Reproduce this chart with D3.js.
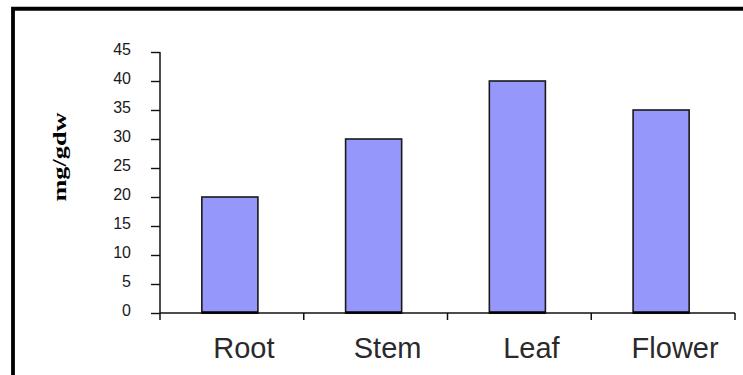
<!DOCTYPE html>
<html>
<head>
<meta charset="utf-8">
<script src="https://cdn.jsdelivr.net/npm/d3@7"></script>
<style>
  html, body { margin: 0; padding: 0; background: #fff; }
  svg { display: block; }
  .ylab { font-family: 'Liberation Sans', Arial, sans-serif; font-size: 16px; fill: #1a1a1a; }
  .xlab { font-family: 'Liberation Sans', Arial, sans-serif; font-size: 29px; fill: #2a2a2a; }
  .ytitle { font-family: 'Liberation Serif', 'Times New Roman', serif; font-weight: bold; font-size: 19px; fill: #000; }
</style>
</head>
<body>
<svg id="chart" width="743" height="375"></svg>
<script>
const categories = ["Root", "Stem", "Leaf", "Flower"];
const values = [20, 30, 40, 35];
const yTicks = [0, 5, 10, 15, 20, 25, 30, 35, 40, 45];
const yTitle = "mg/gdw";

const svg = d3.select("#chart");
const W = 743, H = 375;

svg.append("rect").attr("width", W).attr("height", H).attr("fill", "#fff");

// outer frame (left and top edges visible)
svg.append("path")
  .attr("d", `M13,${H} L13,8.75 L${W},8.75`)
  .attr("fill", "none").attr("stroke", "#000").attr("stroke-width", 3.8);

const y = d3.scaleLinear().domain([0, 45]).range([313, 52]);
const xAxisBand = d3.scaleBand().domain(categories).range([160, 735]);
const xBar = d3.scaleBand().domain(categories).range([158, 733])
  .paddingInner(0.61).paddingOuter(0.305);

// bars
svg.append("g").selectAll("rect").data(categories).join("rect")
  .attr("x", (d) => xBar(d))
  .attr("y", (d, i) => y(values[i]))
  .attr("width", xBar.bandwidth())
  .attr("height", (d, i) => y(0) - y(values[i]))
  .attr("fill", "#9597fb")
  .attr("stroke", "#1a1a1a")
  .attr("stroke-width", 1.6);

// y axis ticks (d3 axis, labels drawn separately)
const yAxis = d3.axisLeft(y).tickValues(yTicks).tickSize(9).tickFormat("").tickSizeOuter(0);
const gy = svg.append("g").attr("transform", "translate(160,0)").call(yAxis);
gy.select(".domain").remove();
gy.selectAll(".tick line").attr("stroke", "#111").attr("stroke-width", 1.4);
gy.selectAll(".tick text").remove();

svg.append("g").selectAll("text").data(yTicks).join("text")
  .attr("class", "ylab")
  .attr("x", 131)
  .attr("y", (d) => y(d) + 3)
  .attr("text-anchor", "end")
  .text((d) => d);

svg.append("line").attr("x1", 160).attr("x2", 160).attr("y1", 52).attr("y2", 320)
  .attr("stroke", "#111").attr("stroke-width", 1.5);

// x axis line
svg.append("line").attr("x1", 160).attr("x2", 735).attr("y1", 313).attr("y2", 313)
  .attr("stroke", "#111").attr("stroke-width", 1.5);
// bar bottoms darker
svg.append("g").selectAll("line").data(categories).join("line")
  .attr("x1", (d) => xBar(d)).attr("x2", (d) => xBar(d) + xBar.bandwidth())
  .attr("y1", 312.5).attr("y2", 312.5)
  .attr("stroke", "#000").attr("stroke-width", 2.5);

// category boundary ticks
const boundaries = categories.map((c) => xAxisBand(c)).concat([xAxisBand.range()[1]]);
svg.append("g").selectAll("line").data(boundaries.slice(1)).join("line")
  .attr("x1", (d) => d).attr("x2", (d) => d)
  .attr("y1", 313).attr("y2", 320)
  .attr("stroke", "#111").attr("stroke-width", 1.5);

// category labels
svg.append("g").selectAll("text").data(categories).join("text")
  .attr("class", "xlab")
  .attr("x", (d) => xBar(d) + xBar.bandwidth() / 2 + 14)
  .attr("y", 358)
  .attr("text-anchor", "middle")
  .text((d) => d);

// y title
svg.append("text")
  .attr("class", "ytitle")
  .attr("transform", "translate(66,157) rotate(-90)")
  .attr("text-anchor", "middle")
  .attr("textLength", 89)
  .attr("lengthAdjust", "spacingAndGlyphs")
  .text(yTitle);
</script>
</body>
</html>
